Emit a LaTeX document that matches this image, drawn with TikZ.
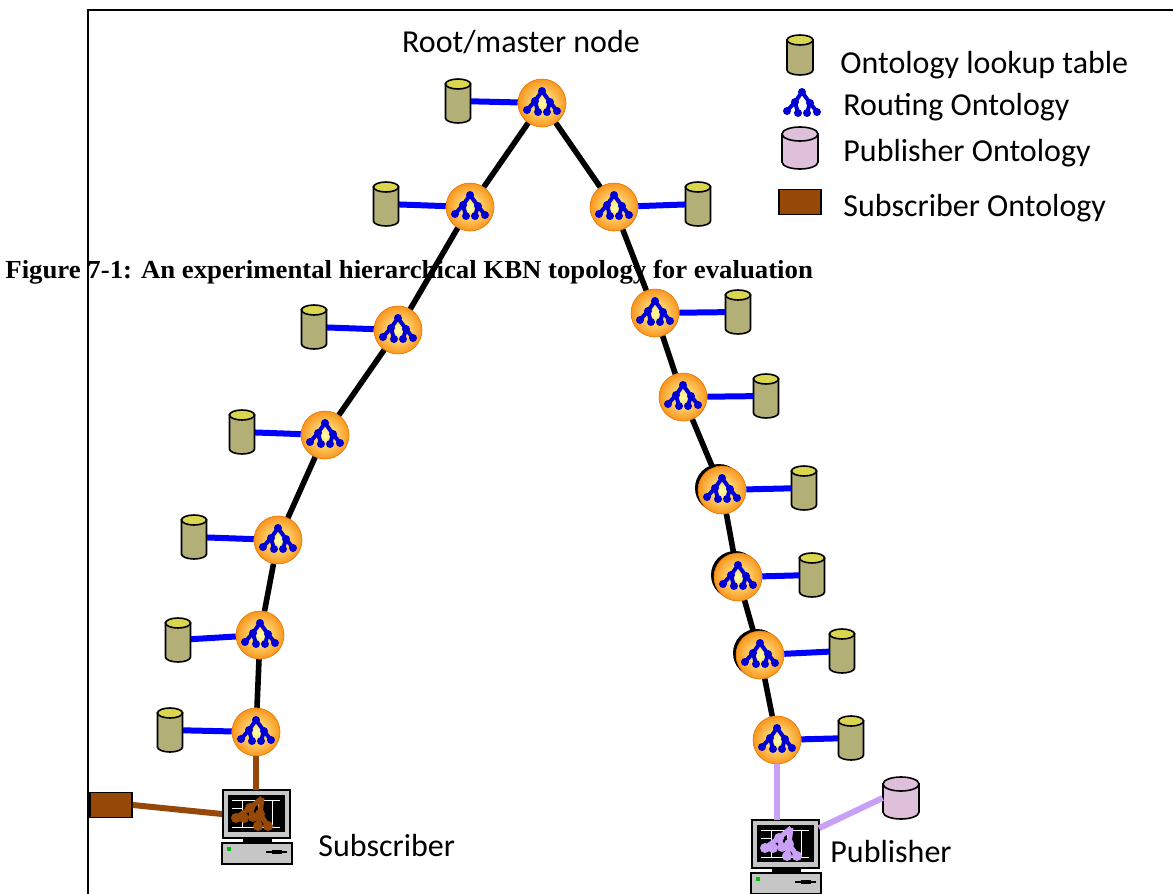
\documentclass[tikz,border=0pt]{standalone}
\usepackage{fontspec}
\setmainfont{Carlito}
\newfontfamily\capfont[FakeStretch=1.03]{Liberation Serif}

\definecolor{dbbody}{RGB}{178,176,118}
\definecolor{dbtop}{RGB}{218,214,80}
\definecolor{pubbody}{RGB}{222,192,218}
\definecolor{subbrown}{RGB}{150,72,8}
\definecolor{publav}{RGB}{200,160,245}
\definecolor{routeblue}{RGB}{0,0,210}
\definecolor{nodeorange}{RGB}{250,150,30}

% little ontology tree: #1 centre, #2 scope options
\newcommand{\routing}[2]{%
  \begin{scope}[shift={#1},#2]
    \draw (0,-12) -- (-7,-2) -- (-15,7) (-7,-2) -- (-4,9)
          (0,-12) -- (8,-1) -- (15,8) (8,-1) -- (5,9);
    \foreach \p in {(0,-12),(-7,-2),(-15,7),(-4,9),(8,-1),(5,9),(15,8)}
      \fill \p circle (4);
  \end{scope}}

% database cylinder: #1 name, #2 centre, #3 half width, #4 half height,
% #5 end radius, #6 body colour, #7 top colour
\newcommand{\dbtable}[7]{%
  \node[minimum width=#3pt, minimum height=#4pt, inner sep=0] (#1) at #2 {};
  \begin{scope}[shift={#2}, line width=0.8pt]
    \filldraw[fill=#6] (-#3,{-#4+#5}) -- (-#3,{#4-#5})
      arc[start angle=180, end angle=0, x radius=#3, y radius=#5]
      -- (#3,{-#4+#5}) -- cycle;
    \filldraw[fill=#7] (0,{-#4+#5}) ellipse[x radius=#3, y radius=#5];
  \end{scope}}

% desktop pc: #1 name, #2 monitor centre, #3 tree colour
\newcommand{\computer}[3]{%
  \node[minimum width=33.5pt, minimum height=24pt, inner sep=0] (#1) at #2 {};
  \begin{scope}[shift={#2}]
    \filldraw[fill=gray!45, line width=0.8pt] (-33,-24) rectangle (34,24);
    \fill[black] (-28,-19) rectangle (29,18);
    \draw[white, line width=0.4pt] (-24,-14) -- (24,-14) (-24,13) -- (24,13)
      (-14,-14) -- (-14,13) (2,-14) -- (2,13) (16,-14) -- (16,13)
      (-24,-6) -- (-14,-6) (-24,2) -- (-14,2);
    \fill[black] (-13,24) rectangle (16,29);
    \filldraw[fill=gray!45, line width=0.8pt] (-34,29) rectangle (36,50);
    \fill[green!75!black] (-29,33) rectangle (-25,37);
    \draw[line width=0.8pt] (10,38) -- (31,38);
    \fill (16,36) rectangle (26,40);
    \begin{scope}[#3, line width=2.5pt]
      \draw (6,-16) -- (-6,-6) -- (-20,4) (-6,-6) -- (-3,3)
            (6,-16) -- (4,0) -- (2,12) (4,0) -- (12,12);
      \foreach \p in {(-20,4),(-12,4),(-3,3),(2,12),(12,12),(-6,-6),(4,0)}
        \fill \p circle (5);
    \end{scope}
  \end{scope}}

\begin{document}
\begin{tikzpicture}[x=0.5pt, y=-0.5pt,
  rnode/.style={circle, minimum size=24pt, inner sep=0, shading=radial,
    inner color=yellow!35!white, outer color=nodeorange, draw=orange!90!black, line width=0.3pt},
  subbox/.style={draw=black, line width=0.8pt, fill=subbrown, minimum width=21pt,
    minimum height=12.5pt, inner sep=0},
  link/.style={draw, line width=2.8pt},
  tlink/.style={draw, blue, line width=3pt},
  plink/.style={draw, line width=3pt},
  lbl/.style={inner sep=0, font=\fontsize{16}{19}\selectfont}]
\useasboundingbox (0,0) rectangle (1173,894);

% frame
\draw[line width=1pt] (88,894) -- (88,10) -- (1173,10);

% broker nodes
\fill (719,488) circle (24);
\fill (735,575) circle (24);
\fill (757,653) circle (24);
\node[rnode] (n0) at (542,103) {};
\node[rnode] (l1) at (470,207) {};
\node[rnode] (l2) at (398,330) {};
\node[rnode] (l3) at (325,435) {};
\node[rnode] (l4) at (278,540) {};
\node[rnode] (l5) at (260,635) {};
\node[rnode] (l6) at (256,732) {};
\node[rnode] (r1) at (614,207) {};
\node[rnode] (r2) at (655,313) {};
\node[rnode] (r3) at (683,397) {};
\node[rnode] (r4) at (722,490) {};
\node[rnode] (r5) at (738,577) {};
\node[rnode] (r6) at (760,655) {};
\node[rnode] (r7) at (777,740) {};

% lookup tables
\dbtable{t0}{(458,101)}{12.5}{22}{5}{dbbody}{dbtop}
\dbtable{tl1}{(386,204)}{12.5}{22}{5}{dbbody}{dbtop}
\dbtable{tl2}{(314,327)}{12.5}{22}{5}{dbbody}{dbtop}
\dbtable{tl3}{(242,432)}{12.5}{22}{5}{dbbody}{dbtop}
\dbtable{tl4}{(194,537)}{12.5}{22}{5}{dbbody}{dbtop}
\dbtable{tl5}{(178,640)}{12.5}{22}{5}{dbbody}{dbtop}
\dbtable{tl6}{(170,730)}{12.5}{22}{5}{dbbody}{dbtop}
\dbtable{tr1}{(698,204)}{12.5}{22}{5}{dbbody}{dbtop}
\dbtable{tr2}{(738,312)}{12.5}{22}{5}{dbbody}{dbtop}
\dbtable{tr3}{(766,396)}{12.5}{22}{5}{dbbody}{dbtop}
\dbtable{tr4}{(804,488)}{12.5}{22}{5}{dbbody}{dbtop}
\dbtable{tr5}{(812,575)}{12.5}{22}{5}{dbbody}{dbtop}
\dbtable{tr6}{(842,651)}{12.5}{22}{5}{dbbody}{dbtop}
\dbtable{tr7}{(851,738)}{12.5}{22}{5}{dbbody}{dbtop}

% tree links
\path[link] (n0) -- (l1);
\path[link] (l1) -- (l2);
\path[link] (l2) -- (l3);
\path[link] (l3) -- (l4);
\path[link] (l4) -- (l5);
\path[link] (l5) -- (l6);
\path[link] (n0) -- (r1);
\path[link] (r1) -- (r2);
\path[link] (r2) -- (r3);
\path[link] (r3) -- (r4);
\path[link] (r4) -- (r5);
\path[link] (r5) -- (r6);
\path[link] (r6) -- (r7);

% node to table
\path[tlink] (t0) -- (n0);
\path[tlink] (tl1) -- (l1);
\path[tlink] (tl2) -- (l2);
\path[tlink] (tl3) -- (l3);
\path[tlink] (tl4) -- (l4);
\path[tlink] (tl5) -- (l5);
\path[tlink] (tl6) -- (l6);
\path[tlink] (r1) -- (tr1);
\path[tlink] (r2) -- (tr2);
\path[tlink] (r3) -- (tr3);
\path[tlink] (r4) -- (tr4);
\path[tlink] (r5) -- (tr5);
\path[tlink] (r6) -- (tr6);
\path[tlink] (r7) -- (tr7);

% routing ontology on every node
\foreach \n in {n0,l1,l2,l3,l4,l5,l6,r1,r2,r3,r4,r5,r6,r7}
  \routing{(\n)}{routeblue, line width=2pt};

% subscriber and publisher
\computer{sub}{(256,814)}{subbrown}
\computer{pub}{(785,844)}{publav}
\node[subbox] (sbox) at (111,805) {};
\dbtable{ptab}{(901,798)}{18}{21}{7}{pubbody}{pubbody}
\path[plink, subbrown] (l6) -- (sub);
\path[plink, subbrown] (sbox.east) -- (sub.west);
\path[plink, publav] (r7) -- (r7 |- pub.north);
\path[plink, publav] (ptab.west) -- (pub.25);
\node[lbl, anchor=west] (subl) at (318,845) {Subscriber};
\node[lbl, anchor=west] (publ) at (830,851) {Publisher};

\node[lbl] (rootl) at (521,42) {Root/master node};

% legend
\dbtable{kt}{(800,55)}{13}{20}{5}{dbbody}{dbtop}
\coordinate (kr) at (802,104);
\routing{(kr)}{routeblue, line width=2pt}
\dbtable{kp}{(800,148)}{18}{21}{7}{pubbody}{pubbody}
\node[subbox] (ks) at (800,202) {};
\node[lbl, anchor=west] at (840,65) {Ontology lookup table};
\node[lbl, anchor=west] at (843,107) {Routing Ontology};
\node[lbl, anchor=west] at (843,153) {Publisher Ontology};
\node[lbl, anchor=west] at (843,208) {Subscriber Ontology};

% caption
\node[anchor=west, inner sep=0, font=\capfont\bfseries\fontsize{13}{15}\selectfont] (cap) at (5,272)
  {Figure 7-1: An experimental hierarchical KBN topology for evaluation};
\end{tikzpicture}
\end{document}
